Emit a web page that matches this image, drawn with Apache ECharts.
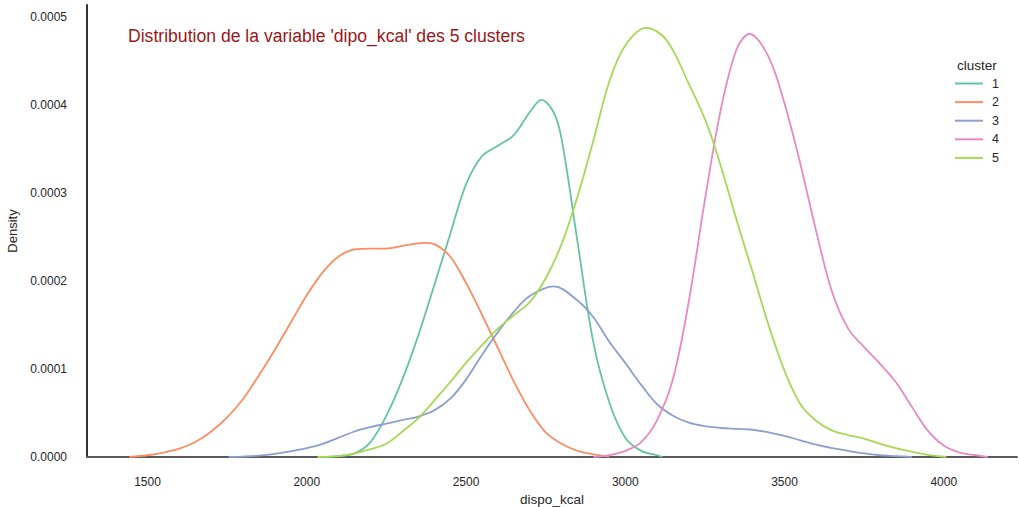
<!DOCTYPE html>
<html>
<head>
<meta charset="utf-8">
<script src="https://cdn.jsdelivr.net/npm/echarts@6/dist/echarts.min.js"></script>
<style>
html,body{margin:0;padding:0;background:#fff;}
#chart{width:1019px;height:507px;}
</style>
</head>
<body>
<div id="chart"></div>
<script>
// KDE curves: x positions (dispo_kcal) and densities per cluster
const cluster1X = [2050,2100,2150,2200,2250,2300,2350,2400,2450,2500,2550,2600,2650,2700,2737,2775,2800,2850,2900,2950,3000,3050,3100,3117];
const cluster1Y = [0,1e-6,4e-6,1.7e-5,4.7e-5,8.8e-5,1.38e-4,1.95e-4,2.53e-4,3.10e-4,3.42e-4,3.54e-4,3.66e-4,3.92e-4,4.06e-4,3.92e-4,3.62e-4,2.45e-4,1.30e-4,6.2e-5,2.2e-5,7e-6,2e-6,0];

const cluster2X = [1443,1500,1550,1600,1650,1700,1750,1800,1850,1900,1950,2000,2050,2100,2150,2200,2250,2300,2370,2400,2450,2500,2550,2600,2650,2700,2750,2800,2850,2900,2950];
const cluster2Y = [0,2e-6,5e-6,9.5e-6,1.7e-5,2.9e-5,4.5e-5,6.6e-5,9.3e-5,1.22e-4,1.53e-4,1.84e-4,2.10e-4,2.28e-4,2.36e-4,2.37e-4,2.37e-4,2.40e-4,2.435e-4,2.42e-4,2.28e-4,1.98e-4,1.62e-4,1.24e-4,8.6e-5,5.3e-5,2.8e-5,1.5e-5,7e-6,3e-6,5e-7];

const cluster3X = [1755,1800,1850,1900,1950,2000,2050,2100,2150,2200,2250,2300,2350,2400,2450,2500,2550,2600,2650,2700,2775,2850,2900,2950,3000,3050,3100,3150,3200,3250,3300,3350,3400,3450,3500,3550,3600,3650,3700,3750,3800,3850,3900];
const cluster3Y = [0,5e-7,1.5e-6,3.5e-6,6.5e-6,1.0e-5,1.5e-5,2.2e-5,2.9e-5,3.4e-5,3.8e-5,4.2e-5,4.6e-5,5.3e-5,6.6e-5,8.8e-5,1.16e-4,1.42e-4,1.65e-4,1.83e-4,1.94e-4,1.78e-4,1.59e-4,1.31e-4,1.07e-4,8.2e-5,6.0e-5,4.7e-5,3.9e-5,3.5e-5,3.3e-5,3.2e-5,3.1e-5,2.8e-5,2.4e-5,1.9e-5,1.4e-5,1.0e-5,7e-6,4e-6,2e-6,1e-6,0];

const cluster4X = [2900,2950,3000,3050,3100,3150,3200,3250,3300,3350,3390,3450,3500,3550,3600,3650,3700,3750,3800,3850,3900,3950,4000,4050,4100,4138];
const cluster4Y = [0,2e-6,7e-6,1.7e-5,4.2e-5,8.9e-5,1.78e-4,2.92e-4,3.95e-4,4.64e-4,4.81e-4,4.55e-4,4.02e-4,3.33e-4,2.56e-4,1.87e-4,1.46e-4,1.25e-4,1.06e-4,8.5e-5,5.7e-5,3.0e-5,1.3e-5,5e-6,2e-6,0];

const cluster5X = [2034,2100,2150,2200,2250,2300,2350,2400,2450,2500,2550,2600,2650,2700,2750,2800,2850,2900,2950,3000,3066,3130,3200,3255,3300,3350,3400,3450,3500,3550,3600,3650,3700,3750,3800,3850,3900,3950,4008];
const cluster5Y = [0,1e-6,4e-6,9e-6,1.5e-5,2.9e-5,4.4e-5,6.4e-5,8.5e-5,1.07e-4,1.27e-4,1.46e-4,1.61e-4,1.76e-4,2.03e-4,2.42e-4,2.96e-4,3.60e-4,4.27e-4,4.68e-4,4.88e-4,4.74e-4,4.24e-4,3.80e-4,3.31e-4,2.69e-4,2.10e-4,1.50e-4,9.8e-5,6.0e-5,4.1e-5,3.0e-5,2.5e-5,2.1e-5,1.5e-5,1.0e-5,6e-6,2.5e-6,0];

const clusterNames = ['1','2','3','4','5'];
const clusterXs = [cluster1X, cluster2X, cluster3X, cluster4X, cluster5X];
const clusterYs = [cluster1Y, cluster2Y, cluster3Y, cluster4Y, cluster5Y];
const colors = ['#66c2a5','#fc8d62','#8da0cb','#e78ac3','#a6d854'];

const xTicks = [1500,2000,2500,3000,3500,4000];
const yTicks = [0,0.0001,0.0002,0.0003,0.0004,0.0005];

const FONT = '"Liberation Sans", Arial, sans-serif';
const chart = echarts.init(document.getElementById('chart'), null, {renderer:'svg'});

const series = clusterNames.map((name, i) => ({
  name: name,
  type: 'line',
  smooth: 0.35,
  showSymbol: false,
  symbol: 'none',
  lineStyle: {width: 1.8, color: colors[i]},
  itemStyle: {color: colors[i]},
  data: clusterXs[i].map((x, k) => [x, clusterYs[i][k]])
}));

chart.setOption({
  animation: false,
  backgroundColor: '#ffffff',
  title: {
    text: "Distribution de la variable 'dipo_kcal' des 5 clusters",
    left: 123, top: 22,
    textStyle: {fontSize: 17.6, fontWeight: 'normal', color: '#9b1717', fontFamily: FONT}
  },
  graphic: [{
    type: 'text', left: 957, top: 58,
    style: {text: 'cluster', fontSize: 13.5, fill: '#262626', fontFamily: FONT}
  }],
  legend: {
    data: clusterNames,
    orient: 'vertical',
    left: 955, top: 77,
    icon: 'rect',
    itemWidth: 28, itemHeight: 2,
    itemGap: 5.6,
    padding: 0,
    textStyle: {fontSize: 12.5, color: '#262626', fontFamily: FONT, padding: [0,0,0,4]}
  },
  grid: {left: 87, right: 2, top: 5, bottom: 50, containLabel: false, outerBoundsMode: 'none'},
  xAxis: {
    type: 'value', min: 1310, max: 4230,
    name: 'dispo_kcal', nameLocation: 'middle', nameGap: 34,
    nameTextStyle: {fontSize: 13.5, color: '#262626', fontFamily: FONT},
    axisLine: {show: true, lineStyle: {color: '#5a5a5a', width: 2}},
    axisTick: {show: false},
    splitLine: {show: false},
    axisLabel: {customValues: xTicks, fontSize: 12, color: '#262626', fontFamily: FONT, margin: 19,
      formatter: v => String(v)}
  },
  yAxis: {
    type: 'value', min: 0, max: 0.000514,
    name: 'Density', nameLocation: 'middle', nameGap: 62,
    nameTextStyle: {fontSize: 13, color: '#262626', fontFamily: FONT},
    axisLine: {show: true, lineStyle: {color: '#333333', width: 2}},
    axisTick: {show: false},
    splitLine: {show: false},
    axisLabel: {customValues: yTicks, fontSize: 12, color: '#262626', fontFamily: FONT, margin: 20,
      formatter: v => v.toFixed(4)}
  },
  series: series
});
</script>
</body>
</html>
